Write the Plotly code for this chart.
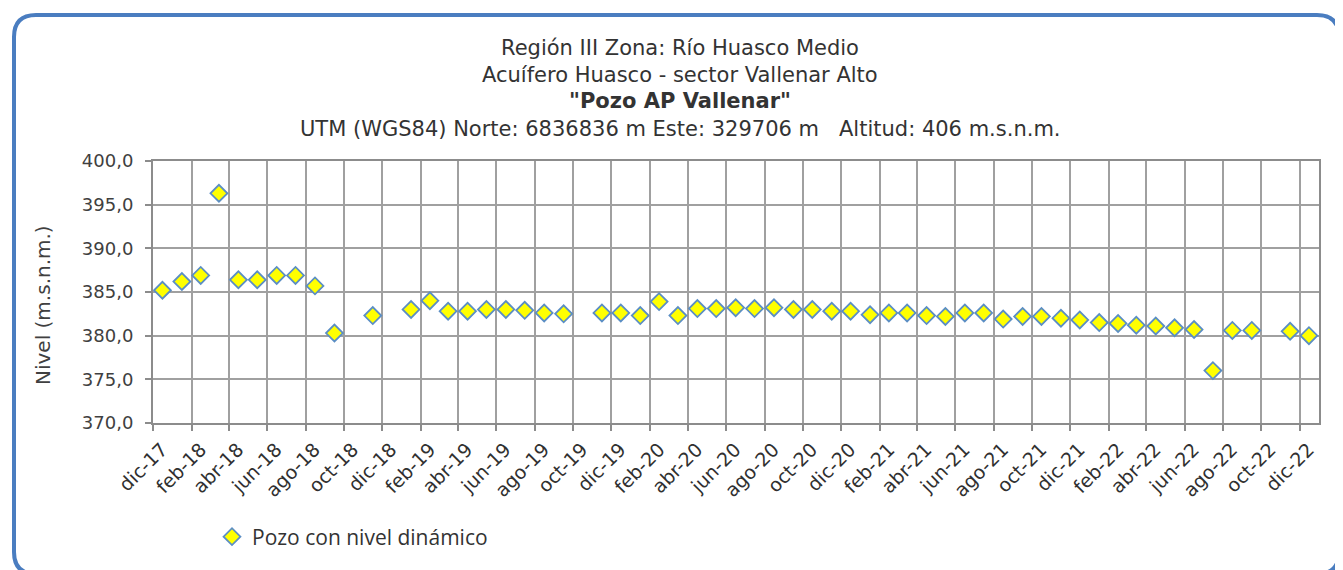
import plotly.graph_objects as go

# ---- data ----
fechas = [
    "2017-12-16", "2018-01-16", "2018-02-15", "2018-03-16", "2018-04-16", "2018-05-16",
    "2018-06-16", "2018-07-16", "2018-08-16", "2018-09-16", "2018-11-16",
    "2019-01-16", "2019-02-15", "2019-03-16", "2019-04-16", "2019-05-16", "2019-06-16",
    "2019-07-16", "2019-08-16", "2019-09-16", "2019-11-16", "2019-12-16",
    "2020-01-16", "2020-02-15", "2020-03-16", "2020-04-16", "2020-05-16", "2020-06-16",
    "2020-07-16", "2020-08-16", "2020-09-16", "2020-10-16", "2020-11-16", "2020-12-16",
    "2021-01-16", "2021-02-15", "2021-03-16", "2021-04-16", "2021-05-16", "2021-06-16",
    "2021-07-16", "2021-08-16", "2021-09-16", "2021-10-16", "2021-11-16", "2021-12-16",
    "2022-01-16", "2022-02-15", "2022-03-16", "2022-04-16", "2022-05-16", "2022-06-16",
    "2022-07-16", "2022-08-16", "2022-09-16", "2022-11-16", "2022-12-16",
]
nivel = [
    385.2, 386.2, 386.9, 396.3, 386.4, 386.4,
    386.9, 386.9, 385.7, 380.3, 382.3,
    383.0, 384.0, 382.8, 382.8, 383.0, 383.0,
    382.9, 382.6, 382.5, 382.6, 382.6,
    382.3, 383.9, 382.3, 383.1, 383.1, 383.2,
    383.1, 383.2, 383.0, 383.0, 382.8, 382.8,
    382.4, 382.6, 382.6, 382.3, 382.2, 382.6,
    382.6, 381.9, 382.2, 382.2, 382.0, 381.8,
    381.5, 381.4, 381.2, 381.1, 380.9, 380.7,
    376.0, 380.6, 380.6, 380.5, 380.0,
]
tick_fechas = [
    "2017-12-01", "2018-02-01", "2018-04-01", "2018-06-01", "2018-08-01", "2018-10-01",
    "2018-12-01", "2019-02-01", "2019-04-01", "2019-06-01", "2019-08-01", "2019-10-01",
    "2019-12-01", "2020-02-01", "2020-04-01", "2020-06-01", "2020-08-01", "2020-10-01",
    "2020-12-01", "2021-02-01", "2021-04-01", "2021-06-01", "2021-08-01", "2021-10-01",
    "2021-12-01", "2022-02-01", "2022-04-01", "2022-06-01", "2022-08-01", "2022-10-01",
    "2022-12-01",
]
tick_labels = [
    "dic-17", "feb-18", "abr-18", "jun-18", "ago-18", "oct-18",
    "dic-18", "feb-19", "abr-19", "jun-19", "ago-19", "oct-19",
    "dic-19", "feb-20", "abr-20", "jun-20", "ago-20", "oct-20",
    "dic-20", "feb-21", "abr-21", "jun-21", "ago-21", "oct-21",
    "dic-21", "feb-22", "abr-22", "jun-22", "ago-22", "oct-22",
    "dic-22",
]
titulos = [
    "Región III Zona: Río Huasco Medio",
    "Acuífero Huasco - sector Vallenar Alto",
    "<b>\"Pozo AP Vallenar\"</b>",
    "UTM (WGS84) Norte: 6836836 m Este: 329706 m   Altitud: 406 m.s.n.m.",
]

# ---- layout geometry (pixels of the target screenshot) ----
OFF = 8                       # default page body margin
W, H = 1343 - OFF, 570 - OFF
L, R, T, B = 153, 1319, 161, 423

def px(x):
    return (x - L) / (R - L)

def py(y):
    return (B - y) / (B - T)

fig = go.Figure()
fig.add_trace(go.Scatter(
    x=fechas, y=nivel, mode="markers", name="Pozo con nivel dinámico",
    marker=dict(symbol="diamond", size=13, color="#ffff00",
                line=dict(color="#5b8ec4", width=1.8)),
))

grid = "#a0a0a0"

fig.update_xaxes(
    type="date", range=["2017-12-01", "2023-01-01"],
    tickmode="array", tickvals=tick_fechas, ticktext=tick_labels,
    tickangle=-45, tickfont=dict(family="DejaVu Sans", size=19, color="#303030"),
    ticklabelshift=9,
    showgrid=True, gridcolor=grid, gridwidth=2,
    showline=True, linecolor="#8c8c8c", linewidth=2, mirror=True,
    ticks="outside", ticklen=6, tickcolor="#8c8c8c", tickwidth=2,
    zeroline=False,
)
fig.update_yaxes(
    range=[370, 400], dtick=5, tick0=370, tickformat=".1f",
    tickfont=dict(family="DejaVu Sans", size=18, color="#404040"),
    ticklabelstandoff=8,
    showgrid=True, gridcolor=grid, gridwidth=2,
    showline=True, linecolor="#8c8c8c", linewidth=2, mirror=True,
    ticks="outside", ticklen=6, tickcolor="#8c8c8c", tickwidth=2,
    zeroline=False,
)

# titles
title_y = [48, 75, 101, 129]
for txt, yy in zip(titulos, title_y):
    fig.add_annotation(text=txt, xref="paper", yref="paper", x=px(680), y=py(yy),
                       xanchor="center", yanchor="middle", showarrow=False,
                       font=dict(family="DejaVu Sans", size=21, color="#333333"))

# y axis title
fig.add_annotation(text="Nivel (m.s.n.m.)", xref="paper", yref="paper",
                   x=px(43), y=py(305), textangle=-90, showarrow=False,
                   xanchor="center", yanchor="middle",
                   font=dict(family="DejaVu Sans", size=20, color="#404040"))

# rounded outer border
x0, y0, x1, y1, r = 14, 15, 1339, 574, 22
path = (
    f"M {px(x0+r)},{py(y0)} L {px(x1-r)},{py(y0)} "
    f"Q {px(x1)},{py(y0)} {px(x1)},{py(y0+r)} "
    f"L {px(x1)},{py(y1-r)} Q {px(x1)},{py(y1)} {px(x1-r)},{py(y1)} "
    f"L {px(x0+r)},{py(y1)} Q {px(x0)},{py(y1)} {px(x0)},{py(y1-r)} "
    f"L {px(x0)},{py(y0+r)} Q {px(x0)},{py(y0)} {px(x0+r)},{py(y0)} Z"
)
fig.add_shape(type="path", path=path, xref="paper", yref="paper",
              line=dict(color="#4a7dc0", width=4), layer="above")

fig.update_layout(
    width=W, height=H, autosize=False,
    margin=dict(l=L - OFF, r=(W + OFF) - R, t=T - OFF, b=(H + OFF) - B, pad=0),
    paper_bgcolor="white", plot_bgcolor="white",
    separators=",.",
    showlegend=True,
    legend=dict(x=px(212), y=py(537), xanchor="left", yanchor="middle",
                bgcolor="rgba(0,0,0,0)", borderwidth=0,
                font=dict(family="Open Sans", size=21, color="#333333")),
)

fig.write_html("out.html")
